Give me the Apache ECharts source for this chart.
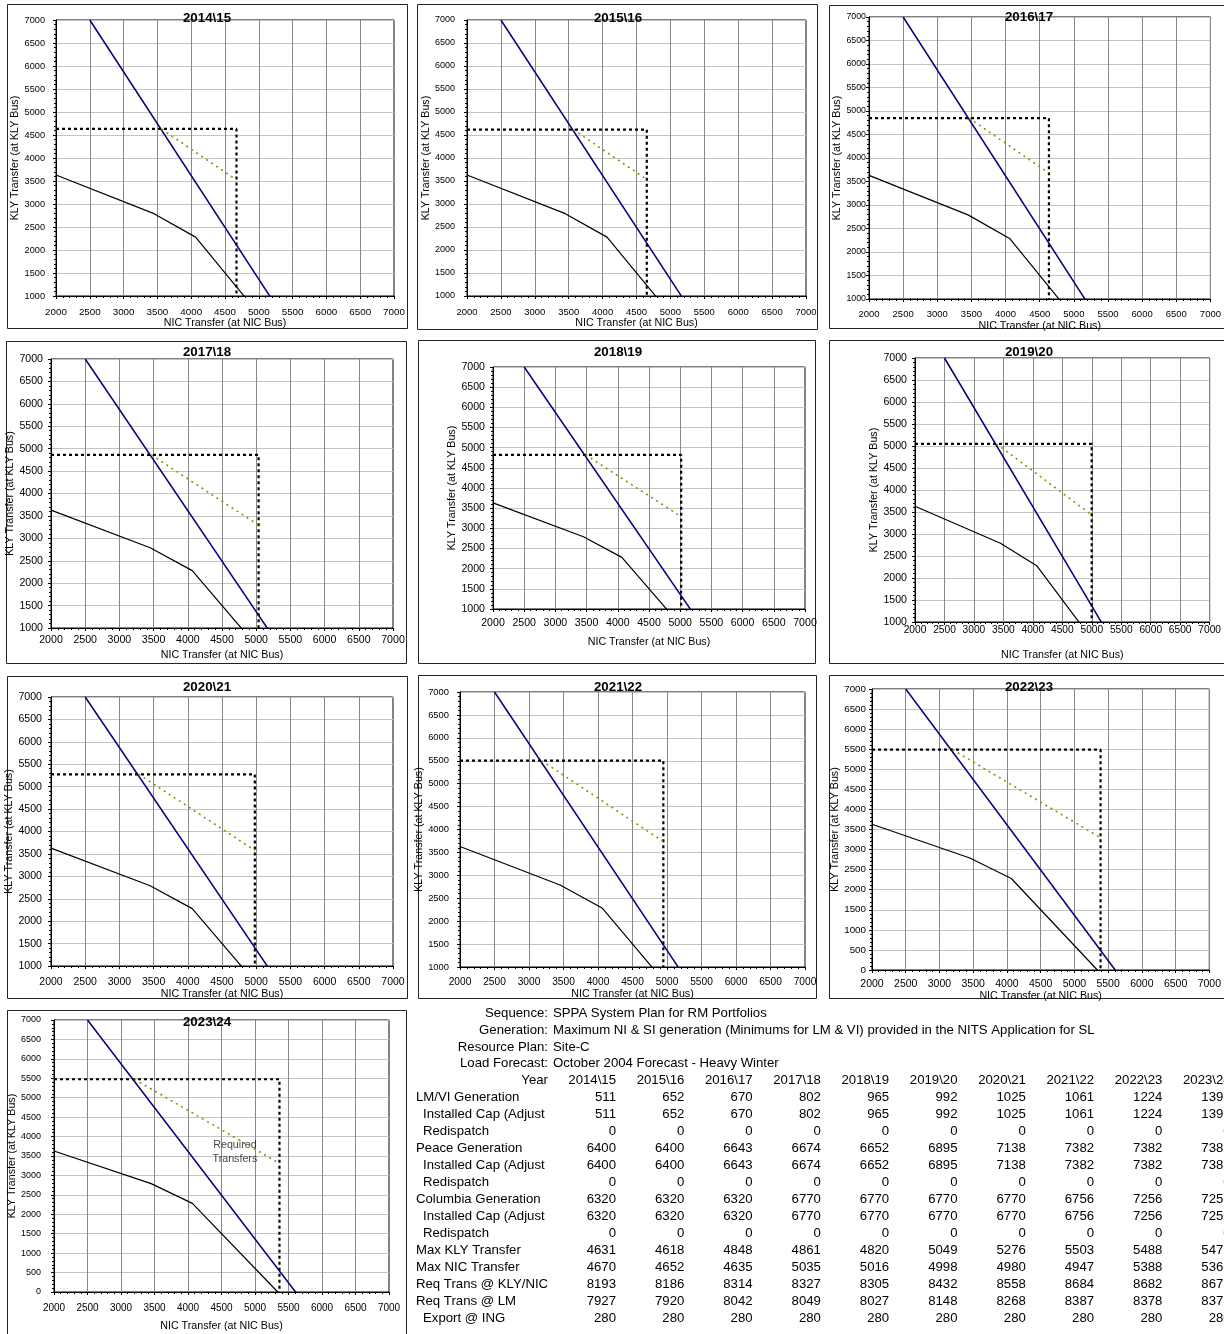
<!DOCTYPE html>
<html>
<head>
<meta charset="utf-8">
<script src="https://cdn.jsdelivr.net/npm/echarts@6/dist/echarts.min.js"></script>
<style>
  html, body { margin: 0; padding: 0; background: #fff; }
  #main { width: 1224px; height: 1334px; }
</style>
</head>
<body>
<div id="main"></div>
<script>
// ---- data ----
const years = ['2014\\15', '2015\\16', '2016\\17', '2017\\18', '2018\\19', '2019\\20', '2020\\21', '2021\\22', '2022\\23', '2023\\24']
const lmviGen = [511, 652, 670, 802, 965, 992, 1025, 1061, 1224, 1396]
const peaceGen = [6400, 6400, 6643, 6674, 6652, 6895, 7138, 7382, 7382, 7382]
const columbiaGen = [6320, 6320, 6320, 6770, 6770, 6770, 6770, 6756, 7256, 7256]
const redispatch = [0, 0, 0, 0, 0, 0, 0, 0, 0, 0]
const maxKly = [4631, 4618, 4848, 4861, 4820, 5049, 5276, 5503, 5488, 5475]
const maxNic = [4670, 4652, 4635, 5035, 5016, 4998, 4980, 4947, 5388, 5365]
const reqKlyNic = [8193, 8186, 8314, 8327, 8305, 8432, 8558, 8684, 8682, 8675]
const reqLm = [7927, 7920, 8042, 8049, 8027, 8148, 8268, 8387, 8378, 8373]
const exportIng = [280, 280, 280, 280, 280, 280, 280, 280, 280, 280]

// transfer limit (blue) and the black limit curve, [NIC, KLY]
const limitLine = [[2500, 7000], [5605, 0]]
const blackCurve = [[2000, 3630], [3450, 2790], [4065, 2280], [5340, 0]]
const yMins = [1000, 1000, 1000, 1000, 1000, 1000, 1000, 1000, 0, 0]
const xMin = 2000, xMax = 7000, yMax = 7000, step = 500
const noteText = 'Required\nTransfers'
const notePoint = [4700, 3600]

const headerRows = [
  ['Sequence:', 'SPPA System Plan for RM Portfolios'],
  ['Generation:', 'Maximum NI & SI generation (Minimums for LM & VI) provided in the NITS Application for SL'],
  ['Resource Plan:', 'Site-C'],
  ['Load Forecast:', 'October 2004 Forecast - Heavy Winter']
]
const tableRows = [
  ['LM/VI Generation', false, lmviGen],
  ['Installed Cap (Adjusted)', true, lmviGen],
  ['Redispatch', true, redispatch],
  ['Peace Generation', false, peaceGen],
  ['Installed Cap (Adjusted)', true, peaceGen],
  ['Redispatch', true, redispatch],
  ['Columbia Generation', false, columbiaGen],
  ['Installed Cap (Adjusted)', true, columbiaGen],
  ['Redispatch', true, redispatch],
  ['Max KLY Transfer', false, maxKly],
  ['Max NIC Transfer', false, maxNic],
  ['Req Trans @ KLY/NIC', false, reqKlyNic],
  ['Req Trans @ LM', false, reqLm],
  ['Export @ ING', true, exportIng]
]

// ---- layout of each small chart ----
const panels = [
  { grid: [56, 20, 338, 276], border: [7, 4, 400, 324], title: [207, 18], yFont: 9.2, xFont: 9.8, yLab: 11, xLab: 16.7, yName: 39, xName: 24 },
  { grid: [467, 20, 339, 276], border: [417, 4, 400, 325], title: [618, 18], yFont: 9, xFont: 9.5, yLab: 12, xLab: 16.7, yName: 40, xName: 23 },
  { grid: [869, 17, 346, 282], border: [829, 5, 400, 323], title: [1029, 17], yFont: 8.8, xFont: 9.5, yLab: 3, xLab: 16, yName: 31, xName: 21 },
  { grid: [51, 359, 342, 269], border: [6, 341, 400, 322], title: [207, 352], yFont: 10.6, xFont: 10.6, yLab: 8, xLab: 13, yName: 34, xName: 28 },
  { grid: [493, 367, 312, 242], border: [418, 340, 397, 323], title: [618, 352], yFont: 10.6, xFont: 10.6, yLab: 8, xLab: 15.3, yName: 42, xName: 34 },
  { grid: [915, 358, 300, 264], border: [829, 340, 400, 323], title: [1029, 352], yFont: 10.6, xFont: 10.2, yLab: 8, xLab: 9, yName: 41, xName: 34 },
  { grid: [51, 697, 342, 269], border: [7, 676, 400, 322], title: [207, 687], yFont: 10.6, xFont: 10.5, yLab: 9, xLab: 17.3, yName: 36, xName: 25 },
  { grid: [460, 692, 345, 275], border: [418, 675, 398, 323], title: [618, 687], yFont: 9.4, xFont: 10.2, yLab: 11, xLab: 16.3, yName: 32, xName: 24 },
  { grid: [872, 689, 343, 281], border: [829, 675, 400, 323], title: [1029, 687], yFont: 9.8, xFont: 10.5, yLab: 6, xLab: 15, yName: 33, xName: 21 },
  { grid: [54, 1020, 335, 272], border: [7, 1010, 399, 330], title: [207, 1022], yFont: 9, xFont: 10, yLab: 13, xLab: 17, yName: 38, xName: 35 }
]

const FONT = '"Liberation Sans", Arial, sans-serif'
const nameFont = 10.7
const plain = v => String(v)

const myChart = echarts.init(document.getElementById('main'), null, { renderer: 'canvas' })

const grids = [], xAxes = [], yAxes = [], series = [], graphics = []

panels.forEach((p, i) => {
  grids.push({
    left: p.grid[0], top: p.grid[1], width: p.grid[2], height: p.grid[3],
    show: true, borderColor: '#000', borderWidth: 1, backgroundColor: '#fff'
  })
  xAxes.push({
    gridIndex: i, type: 'value', min: xMin, max: xMax, interval: step,
    name: 'NIC Transfer (at NIC Bus)', nameLocation: 'middle', nameGap: p.xName - 6.4,
    nameTextStyle: { fontSize: nameFont, color: '#000', fontFamily: FONT },
    axisLine: { show: true, onZero: false, lineStyle: { color: '#000', width: 1 } },
    axisTick: { show: true, length: 3, lineStyle: { color: '#000' } },
    minorTick: { show: true, splitNumber: 5, length: 2, lineStyle: { color: '#000' } },
    splitLine: { show: true, lineStyle: { color: '#888', width: 1 } },
    axisLabel: { formatter: plain, fontSize: p.xFont, color: '#000', fontFamily: FONT, margin: p.xLab - 0.6 * p.xFont, showMaxLabel: true, showMinLabel: true }
  })
  yAxes.push({
    gridIndex: i, type: 'value', min: yMins[i], max: yMax, interval: step,
    name: 'KLY Transfer (at KLY Bus)', nameLocation: 'middle', nameGap: p.yName - 6.4,
    nameTextStyle: { fontSize: nameFont, color: '#000', fontFamily: FONT },
    axisLine: { show: true, onZero: false, lineStyle: { color: '#000', width: 1 } },
    axisTick: { show: true, length: 3, lineStyle: { color: '#000' } },
    minorTick: { show: true, splitNumber: 5, length: 2, lineStyle: { color: '#000' } },
    splitLine: { show: true, lineStyle: { color: '#c4c4c4', width: 1 } },
    axisLabel: { formatter: plain, fontSize: p.yFont, color: '#000', fontFamily: FONT, margin: p.yLab, showMaxLabel: true, showMinLabel: true }
  })

  const base = { type: 'line', xAxisIndex: i, yAxisIndex: i, showSymbol: false, symbol: 'none', silent: true, clip: true, animation: false }
  series.push(Object.assign({}, base, {
    name: 'limit', data: limitLine, lineStyle: { color: '#000080', width: 1.5 }, z: 3
  }))
  series.push(Object.assign({}, base, {
    name: 'curve', data: blackCurve, lineStyle: { color: '#000', width: 1.2 }, z: 3
  }))
  series.push(Object.assign({}, base, {
    name: 'max', data: [[xMin, maxKly[i]], [maxNic[i], maxKly[i]], [maxNic[i], yMins[i]]],
    lineStyle: { color: '#000', width: 2.2, type: [3, 3] }, z: 4
  }))
  series.push(Object.assign({}, base, {
    name: 'req', data: [[reqKlyNic[i] - maxKly[i], maxKly[i]], [maxNic[i], reqKlyNic[i] - maxNic[i]]],
    lineStyle: { color: '#8f8f00', width: 1.6, type: [2, 4] }, z: 4
  }))

  graphics.push({
    type: 'rect', silent: true,
    shape: { x: p.border[0] + 0.5, y: p.border[1] + 0.5, width: p.border[2], height: p.border[3] },
    style: { fill: null, stroke: '#222', lineWidth: 1 }, z: -10
  })
  graphics.push({
    type: 'text', silent: true, x: p.title[0], y: p.title[1], z: 100,
    style: { text: years[i], align: 'center', verticalAlign: 'middle', fill: '#000', fontSize: 13.3, fontWeight: 'bold', fontFamily: FONT }
  })
})

// note in the last chart
series.push({
  type: 'scatter', xAxisIndex: 9, yAxisIndex: 9, symbolSize: 0, silent: true, animation: false,
  data: [notePoint],
  label: { show: true, position: 'inside', formatter: noteText, fontSize: 10.7, color: '#111', fontFamily: FONT, lineHeight: 14, align: 'center' }
})

// ---- table ----
const rowY0 = 1013, rowH = 16.94
const colRight = years.map((y, k) => 616 + k * 68.3)
const tfont = { fontSize: 13.2, fontFamily: FONT, fill: '#000' }

headerRows.forEach((r, j) => {
  graphics.push({ type: 'text', silent: true, x: 548, y: rowY0 + j * rowH,
    style: Object.assign({ text: r[0], align: 'right', verticalAlign: 'middle' }, tfont) })
  graphics.push({ type: 'text', silent: true, x: 553, y: rowY0 + j * rowH,
    style: Object.assign({ text: r[1], align: 'left', verticalAlign: 'middle' }, tfont) })
})
graphics.push({ type: 'text', silent: true, x: 548, y: rowY0 + 4 * rowH,
  style: Object.assign({ text: 'Year', align: 'right', verticalAlign: 'middle' }, tfont) })
years.forEach((y, k) => {
  graphics.push({ type: 'text', silent: true, x: colRight[k], y: rowY0 + 4 * rowH,
    style: Object.assign({ text: y, align: 'right', verticalAlign: 'middle' }, tfont) })
})
tableRows.forEach((r, j) => {
  const yy = rowY0 + (j + 5) * rowH
  const lx = r[1] ? 423 : 416
  graphics.push({ type: 'text', silent: true, x: lx, y: yy,
    style: Object.assign({ text: r[0], align: 'left', verticalAlign: 'middle', width: 553 - lx, overflow: 'truncate', ellipsis: '' }, tfont) })
  r[2].forEach((v, k) => {
    graphics.push({ type: 'text', silent: true, x: colRight[k], y: yy,
      style: Object.assign({ text: String(v), align: 'right', verticalAlign: 'middle' }, tfont) })
  })
})

myChart.setOption({
  animation: false,
  backgroundColor: '#fff',
  grid: grids,
  xAxis: xAxes,
  yAxis: yAxes,
  series: series,
  graphic: { elements: graphics }
})
</script>
</body>
</html>
